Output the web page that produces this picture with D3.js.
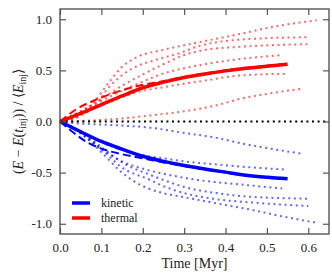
<!DOCTYPE html>
<html><head><meta charset="utf-8">
<script src="https://cdn.jsdelivr.net/npm/d3@7"></script>
<style>body{margin:0;background:#fff}svg{display:block}</style>
</head><body><div id="c"></div>
<script>
// ---- data: [time (Myr), (E - E(t_inj)) / <E_inj>] ----
const thermalMean   = [[0,0],[0.05,0.08],[0.1,0.165],[0.15,0.25],[0.2,0.33],[0.25,0.385],[0.3,0.43],[0.35,0.465],[0.4,0.495],[0.45,0.52],[0.5,0.54],[0.55,0.56]];
const thermalDashed = [[0,0],[0.036,0.11],[0.1,0.235],[0.15,0.305],[0.19,0.35],[0.25,0.395],[0.3,0.435],[0.4,0.5],[0.5,0.545],[0.55,0.565]];
const thermalRuns = [
  [[0,0],[0.03,0.02],[0.06,0.1],[0.084,0.2],[0.117,0.375],[0.149,0.53],[0.181,0.62],[0.249,0.70],[0.33,0.77],[0.434,0.855],[0.52,0.93],[0.62,0.99]],
  [[0,0],[0.04,0.04],[0.084,0.15],[0.117,0.33],[0.149,0.45],[0.181,0.53],[0.229,0.60],[0.29,0.67],[0.33,0.73],[0.434,0.80],[0.6,0.825]],
  [[0,0],[0.05,0.1],[0.1,0.22],[0.15,0.35],[0.2,0.46],[0.25,0.56],[0.3,0.65],[0.35,0.70],[0.434,0.73],[0.6,0.756]],
  [[0,0],[0.05,0.1],[0.1,0.2],[0.15,0.3],[0.2,0.39],[0.25,0.47],[0.3,0.52],[0.35,0.56],[0.434,0.61],[0.537,0.65]],
  [[0,0],[0.05,0.08],[0.1,0.16],[0.15,0.24],[0.2,0.30],[0.25,0.335],[0.3,0.37],[0.35,0.40],[0.434,0.45],[0.545,0.466]],
  [[0,0],[0.05,0.005],[0.1,0.015],[0.15,0.03],[0.23,0.065],[0.3,0.1],[0.38,0.16],[0.434,0.22],[0.5,0.27],[0.585,0.32]]
];
const kineticMean   = [[0,0],[0.05,-0.1],[0.1,-0.195],[0.15,-0.27],[0.2,-0.34],[0.25,-0.39],[0.3,-0.43],[0.35,-0.465],[0.4,-0.495],[0.45,-0.525],[0.5,-0.545],[0.55,-0.56]];
const kineticDashed = [[0,0],[0.036,-0.12],[0.064,-0.2],[0.1,-0.265],[0.15,-0.32],[0.2,-0.36],[0.25,-0.4],[0.3,-0.435],[0.4,-0.5],[0.5,-0.55],[0.55,-0.565]];
const kineticRuns = [
  [[0,0],[0.05,-0.02],[0.1,-0.03],[0.15,-0.04],[0.217,-0.06],[0.297,-0.11],[0.378,-0.16],[0.434,-0.21],[0.5,-0.26],[0.585,-0.315]],
  [[0,0],[0.05,-0.1],[0.1,-0.2],[0.15,-0.28],[0.2,-0.33],[0.25,-0.36],[0.3,-0.39],[0.35,-0.41],[0.434,-0.44],[0.545,-0.47]],
  [[0,0],[0.05,-0.12],[0.1,-0.27],[0.15,-0.39],[0.217,-0.48],[0.249,-0.51],[0.33,-0.57],[0.434,-0.615],[0.537,-0.654]],
  [[0,0],[0.05,-0.1],[0.1,-0.25],[0.15,-0.40],[0.217,-0.52],[0.249,-0.57],[0.3,-0.64],[0.378,-0.70],[0.458,-0.735],[0.6,-0.755]],
  [[0,0],[0.05,-0.1],[0.1,-0.27],[0.15,-0.45],[0.217,-0.57],[0.249,-0.63],[0.3,-0.70],[0.378,-0.76],[0.458,-0.79],[0.6,-0.826]],
  [[0,0],[0.05,-0.11],[0.1,-0.3],[0.15,-0.5],[0.177,-0.58],[0.217,-0.66],[0.249,-0.70],[0.3,-0.74],[0.378,-0.80],[0.458,-0.86],[0.54,-0.93],[0.62,-0.99]]
];
const xTicks = [0,0.1,0.2,0.3,0.4,0.5,0.6];
const xTickLabels = ["0.0","0.1","0.2","0.3","0.4","0.5","0.6"];
const yTicks = [-1.0,-0.5,0,0.5,1.0];
const yTickLabels = ["-1.0","-0.5","0.0","0.5","1.0"];
const legendLabels = ["kinetic","thermal"];

// ---- drawing ----
const FONT = "Liberation Serif";
const W=332,H=276, L=60,R=329,T=9,B=234;
const svg=d3.select("#c").append("svg").attr("width",W).attr("height",H);
const x=d3.scaleLinear().domain([0,0.65]).range([L,R]);
const y=d3.scaleLinear().domain([-1.1,1.1]).range([B,T]);
const line=d3.line().x(d=>x(d[0])).y(d=>y(d[1])).curve(d3.curveMonotoneX);

const g=svg.append("g");
const red="#ff0000", blue="#0000ff";
function runs(data,color){
  g.selectAll(null).data(data).enter().append("path").attr("d",line)
   .attr("fill","none").attr("stroke",color).attr("stroke-opacity",0.6)
   .attr("stroke-width",2).attr("stroke-dasharray","2,3.6");
}
runs(thermalRuns,red); runs(kineticRuns,blue);
g.append("path").attr("d",line(thermalDashed)).attr("fill","none").attr("stroke",red).attr("stroke-width",2).attr("stroke-dasharray","8,4");
g.append("path").attr("d",line(kineticDashed)).attr("fill","none").attr("stroke",blue).attr("stroke-width",2).attr("stroke-dasharray","8,4");
g.append("path").attr("d",line(thermalMean)).attr("fill","none").attr("stroke",red).attr("stroke-width",3.5);
g.append("path").attr("d",line(kineticMean)).attr("fill","none").attr("stroke",blue).attr("stroke-width",3.5);
// zero line
g.append("line").attr("x1",L).attr("x2",R).attr("y1",y(0)).attr("y2",y(0))
 .attr("stroke","#000").attr("stroke-width",2).attr("stroke-dasharray","2,3.6");

// axes (ticks inward on all four sides)
const tl=6, axc="#555";
const ax=[
  svg.append("g").attr("transform",`translate(0,${B})`).call(d3.axisBottom(x).tickValues(xTicks).tickFormat((d,i)=>xTickLabels[i]).tickSizeInner(-tl).tickSizeOuter(0).tickPadding(9)),
  svg.append("g").attr("transform",`translate(0,${T})`).call(d3.axisTop(x).tickValues(xTicks).tickFormat("").tickSizeInner(-tl).tickSizeOuter(0)),
  svg.append("g").attr("transform",`translate(${L},0)`).call(d3.axisLeft(y).tickValues(yTicks).tickFormat((d,i)=>yTickLabels[i]).tickSizeInner(-tl).tickSizeOuter(0).tickPadding(8)),
  svg.append("g").attr("transform",`translate(${R},0)`).call(d3.axisRight(y).tickValues(yTicks).tickFormat("").tickSizeInner(-tl).tickSizeOuter(0))
];
ax.forEach(a=>{a.attr("font-family",FONT).attr("font-size",13);
  a.select(".domain").remove();a.selectAll("line").attr("stroke",axc).attr("stroke-width",1.2);
  a.selectAll("text").attr("font-size",13).attr("fill","#222").attr("font-family",FONT);});
svg.append("rect").attr("x",L).attr("y",T).attr("width",R-L).attr("height",B-T).attr("fill","none").attr("stroke",axc).attr("stroke-width",1.4);

// labels
svg.append("text").attr("x",(L+R)/2).attr("y",268).attr("text-anchor","middle").attr("font-family",FONT).attr("fill","#222").attr("font-size",14).text("Time [Myr]");
const yl=svg.append("text").attr("transform",`translate(23,${(T+B)/2}) rotate(-90)`).attr("text-anchor","middle").attr("font-family",FONT).attr("fill","#222").attr("font-size",14);
yl.append("tspan").text("(");
yl.append("tspan").attr("font-style","italic").text("E");
yl.append("tspan").text(" − ");
yl.append("tspan").attr("font-style","italic").text("E");
yl.append("tspan").text("(");
yl.append("tspan").attr("font-style","italic").text("t");
yl.append("tspan").attr("font-size",10).attr("dy",3).text("inj");
yl.append("tspan").attr("dy",-3).text(")) / ⟨");
yl.append("tspan").attr("font-style","italic").text("E");
yl.append("tspan").attr("font-size",10).attr("dy",3).text("inj");
yl.append("tspan").attr("dy",-3).text("⟩");

// legend
const lg=svg.append("g");
[blue,red].forEach((c,i)=>{
  const yy=203+i*15;
  lg.append("line").attr("x1",72).attr("x2",90).attr("y1",yy).attr("y2",yy).attr("stroke",c).attr("stroke-width",3.5);
  lg.append("text").attr("x",101).attr("y",yy+4).attr("font-family",FONT).attr("fill","#222").attr("font-size",12).text(legendLabels[i]);
});
</script></body></html>
